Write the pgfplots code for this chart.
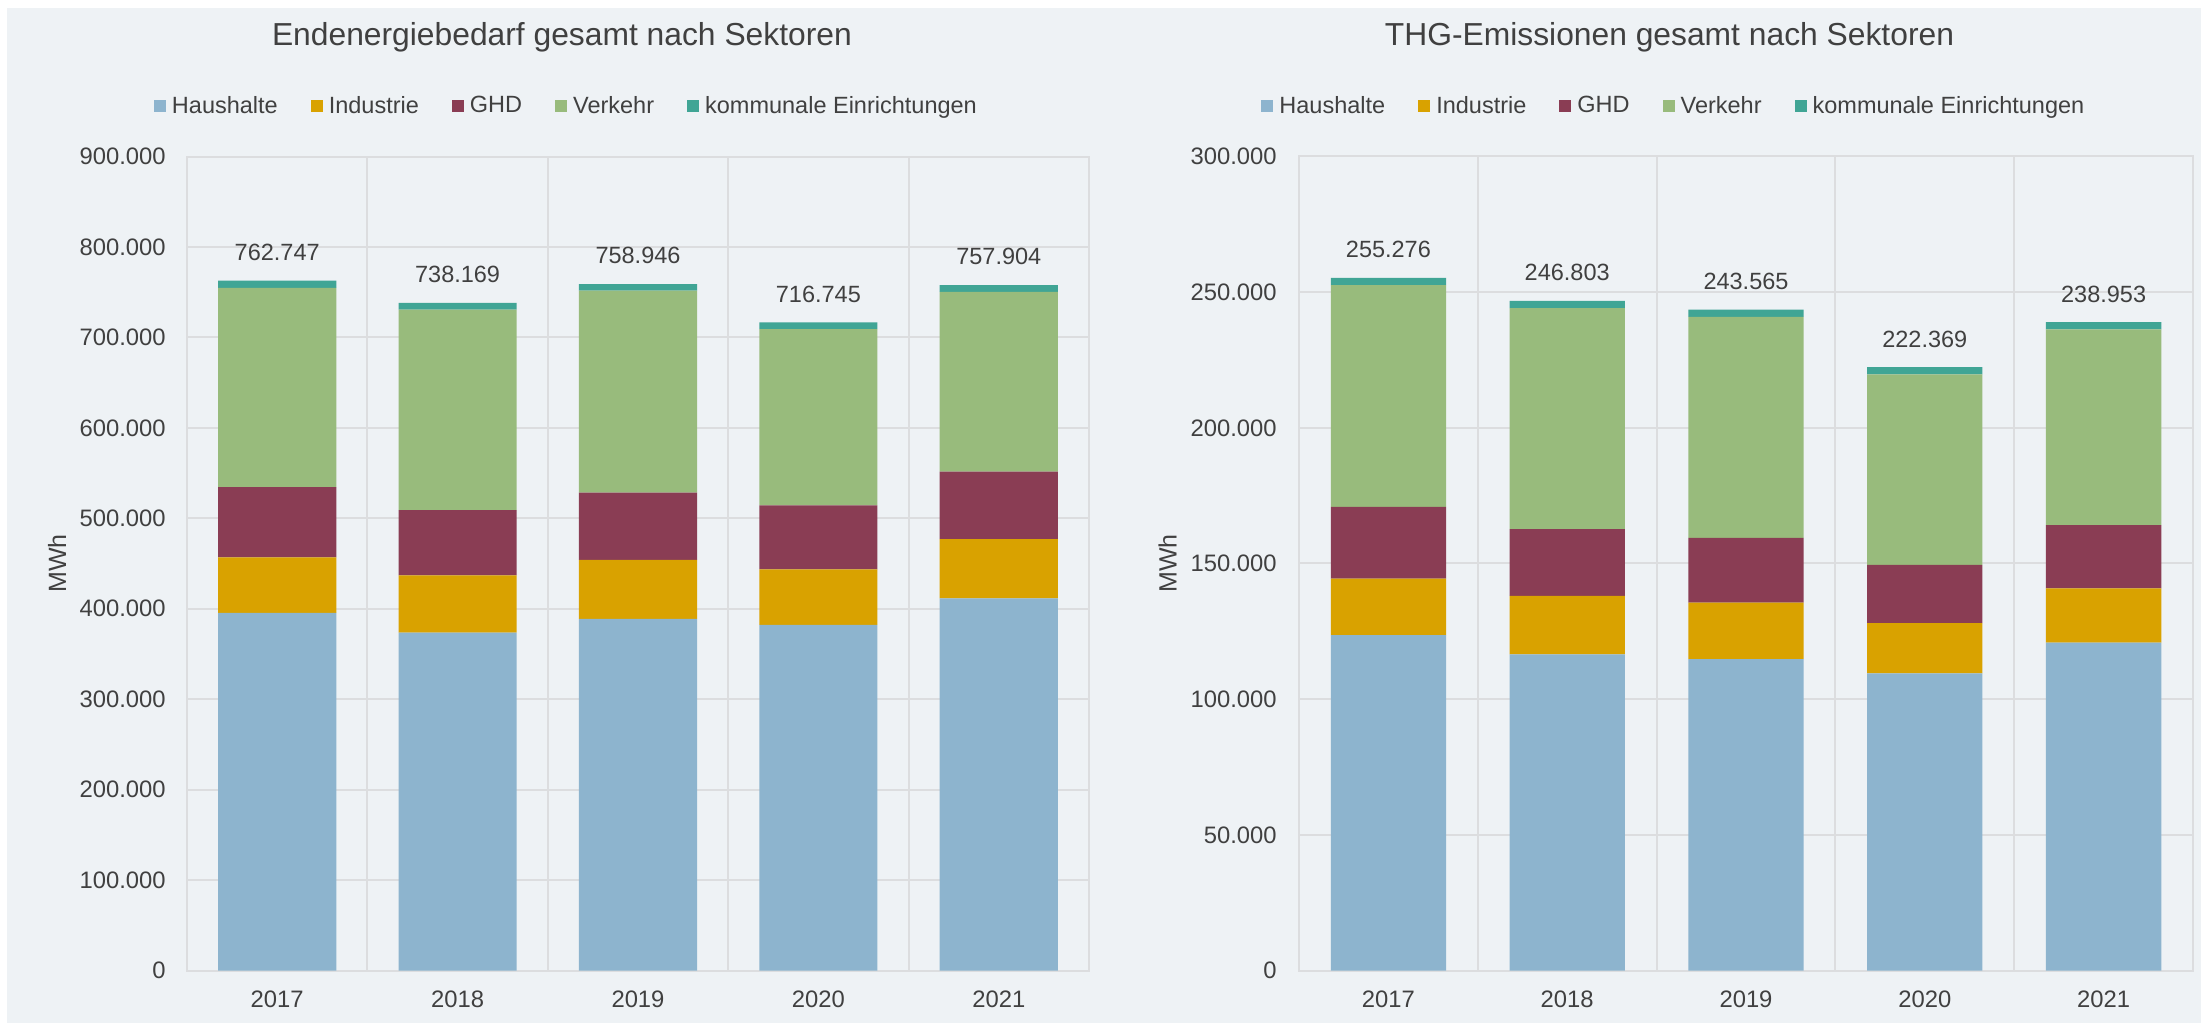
\documentclass[border=0pt]{standalone}
\usepackage{pgfplots}
\pgfplotsset{compat=1.18}
\usepackage{fontspec}
\setmainfont{Liberation Sans}
\definecolor{bgc}{HTML}{EEF2F5}
\definecolor{gridc}{HTML}{DCDDDF}
\definecolor{txt}{HTML}{404040}
\definecolor{cHH}{HTML}{8DB4CE}
\definecolor{cInd}{HTML}{D9A200}
\definecolor{cGHD}{HTML}{8A3D54}
\definecolor{cVer}{HTML}{98BB7C}
\definecolor{cKom}{HTML}{40A595}
\pgfplotsset{
  mychart/.style={
    scale only axis,
    height=407pt,
    ybar stacked,
    xmin=-0.5, xmax=4.5, ymin=0,
    xtick={0,1,2,3,4},
    xticklabels={2017,2018,2019,2020,2021},
    minor xtick={0.5,1.5,2.5,3.5},
    xminorgrids=true,
    ymajorgrids=true,
    grid style={draw=gridc, line width=1pt},
    minor grid style={draw=gridc, line width=1pt},
    axis line style={draw=gridc, line width=1pt},
    major tick length=0pt, minor tick length=0pt,
    tick style={draw=none},
    scaled y ticks=false,
    /pgf/number format/assume math mode=true,
    tick label style={font=\fontsize{11.9}{13}\selectfont, text=txt, inner sep=0pt},
    xticklabel style={anchor=north, yshift=-9.75pt},
    yticklabel style={anchor=east},
    ylabel={MWh},
    ylabel style={rotate=0, font=\fontsize{12.5}{14}\selectfont, text=txt, anchor=center},
    title style={font=\fontsize{15.9}{18}\selectfont, text=txt, anchor=base, inner sep=0pt},
    legend columns=5,
    legend style={draw=none, fill=none, inner sep=0pt, outer sep=0pt,
      font=\fontsize{11.75}{13}\selectfont, text=txt,
      /tikz/every odd column/.append style={column sep=3pt},
      /tikz/every even column/.append style={column sep=16.5pt},
      nodes={inner sep=0pt}},
    legend image code/.code={\fill[##1] (0pt,-3.1pt) rectangle (6pt,3.1pt);},
    every axis plot/.append style={draw=none},
    toplabels/.style={nodes near coords, point meta=explicit symbolic,
      every node near coord/.append style={anchor=south, yshift=11.5pt, inner sep=0pt,
        text=txt, font=\fontsize{11.75}{13}\selectfont}},
  }
}
\begin{document}
\begin{tikzpicture}
\fill[white] (0,0) rectangle (1100.5pt,511.5pt);
\fill[bgc] (3.5pt,0) rectangle (1100.5pt,507.5pt);
\useasboundingbox (0,0) rectangle (1100.5pt,511.5pt);

% Left chart
\begin{axis}[mychart,
  at={(93.5pt,26.25pt)}, anchor=south west,
  width=451pt, bar width=0.655,
  ymax=900000,
  ytick={0,100000,200000,300000,400000,500000,600000,700000,800000,900000},
  yticklabels={0,100.000,200.000,300.000,400.000,500.000,600.000,700.000,800.000,900.000},
  yticklabel style={xshift=-10.5pt},
  ylabel style={at={(axis description cs:-0.144,0.5)}, rotate=0},
  title={Endenergiebedarf gesamt nach Sektoren},
  title style={at={(axis description cs:0.4157,1.1218)}},
  legend style={at={(axis description cs:-0.0366,1.062)}, anchor=west},
]
\addplot[fill=cHH] coordinates {(0,395300) (1,373700) (2,388700) (3,382100) (4,411500)};
\addplot[fill=cInd] coordinates {(0,61400) (1,63300) (2,65400) (3,61500) (4,65400)};
\addplot[fill=cGHD] coordinates {(0,77800) (1,72000) (2,74200) (3,70700) (4,74700)};
\addplot[fill=cVer] coordinates {(0,220347) (1,221669) (2,223346) (3,194945) (4,198604)};
\addplot[fill=cKom, toplabels] table[x=x, y=y, meta=lab] {
x y lab
0 7900 762.747
1 7500 738.169
2 7300 758.946
3 7500 716.745
4 7700 757.904
};
\legend{Haushalte, Industrie, GHD, Verkehr, kommunale Einrichtungen}
\end{axis}

% Right chart
\begin{axis}[mychart,
  at={(649.5pt,26.25pt)}, anchor=south west,
  width=447pt, bar width=0.645,
  ymax=300000,
  ytick={0,50000,100000,150000,200000,250000,300000},
  yticklabels={0,50.000,100.000,150.000,200.000,250.000,300.000},
  yticklabel style={xshift=-11pt},
  ylabel style={at={(axis description cs:-0.147,0.5)}, rotate=0},
  title={THG-Emissionen gesamt nach Sektoren},
  title style={at={(axis description cs:0.4144,1.1218)}},
  legend style={at={(axis description cs:-0.042,1.062)}, anchor=west},
]
\addplot[fill=cHH] coordinates {(0,123600) (1,116500) (2,114800) (3,109500) (4,120800)};
\addplot[fill=cInd] coordinates {(0,20800) (1,21600) (2,20800) (3,18500) (4,20000)};
\addplot[fill=cGHD] coordinates {(0,26500) (1,24600) (2,23800) (3,21500) (4,23300)};
\addplot[fill=cVer] coordinates {(0,81676) (1,81403) (2,81465) (3,70169) (4,72153)};
\addplot[fill=cKom, toplabels] table[x=x, y=y, meta=lab] {
x y lab
0 2700 255.276
1 2700 246.803
2 2700 243.565
3 2700 222.369
4 2700 238.953
};
\legend{Haushalte, Industrie, GHD, Verkehr, kommunale Einrichtungen}
\end{axis}
\end{tikzpicture}
\end{document}
